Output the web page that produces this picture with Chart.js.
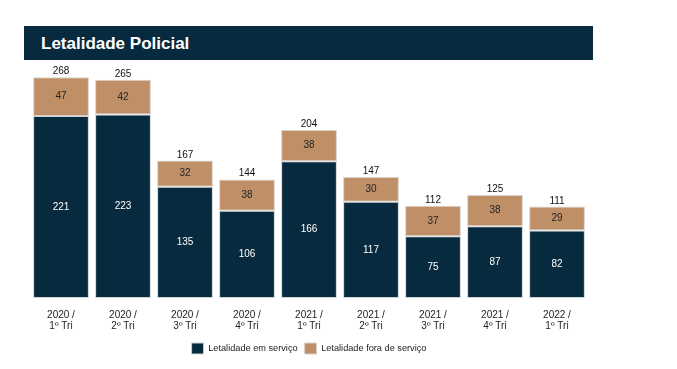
<!DOCTYPE html>
<html lang="pt">
<head>
<meta charset="UTF-8">
<title>Letalidade Policial</title>
<script src="https://cdn.jsdelivr.net/npm/chart.js"></script>
<style>
    body { margin: 0; background: #fff; font-family: "Liberation Sans", Arial, sans-serif; }
    .wrap { position: relative; width: 677px; height: 369px; }
    .titulo {
        position: absolute; left: 24px; top: 26px; width: 569px; height: 34px;
        background: #072a3e; color: #fff; font-weight: bold; font-size: 17px;
        line-height: 35px; padding-left: 17px; box-sizing: border-box; z-index: 2;
    }
    canvas { position: absolute; left: 0; top: 0; }
</style>
</head>
<body>
<div class="wrap">
    <div class="titulo">Letalidade Policial</div>
    <canvas id="grafico" width="677" height="369"></canvas>
</div>
<script>
    // dados
    var trimestres = [
        ['2020 /', '1º Tri'], ['2020 /', '2º Tri'], ['2020 /', '3º Tri'], ['2020 /', '4º Tri'],
        ['2021 /', '1º Tri'], ['2021 /', '2º Tri'], ['2021 /', '3º Tri'], ['2021 /', '4º Tri'],
        ['2022 /', '1º Tri']
    ];
    var emServico = [221, 223, 135, 106, 166, 117, 75, 87, 82];
    var foraServico = [47, 42, 32, 38, 38, 30, 37, 38, 29];

    var azul = '#072a3e';
    var bege = '#bf9068';

    // escreve os valores dentro das barras e o total em cima
    var rotulos = {
        id: 'rotulos',
        afterDatasetsDraw: function (chart) {
            var ctx = chart.ctx;
            ctx.save();
            ctx.font = '10px "Liberation Sans", Arial, sans-serif';
            ctx.textAlign = 'center';
            ctx.textBaseline = 'middle';
            chart.data.datasets.forEach(function (ds, i) {
                var meta = chart.getDatasetMeta(i);
                meta.data.forEach(function (bar, j) {
                    ctx.fillStyle = i == 0 ? '#ffffff' : '#222222';
                    ctx.fillText(ds.data[j], bar.x, (bar.y + bar.base) / 2);
                });
            });
            var topo = chart.getDatasetMeta(1);
            ctx.fillStyle = '#111111';
            ctx.textBaseline = 'alphabetic';
            topo.data.forEach(function (bar, j) {
                ctx.fillText(emServico[j] + foraServico[j], bar.x, bar.y - 3);
            });
            ctx.restore();
        }
    };

    var grafico = new Chart(document.getElementById('grafico'), {
        type: 'bar',
        data: {
            labels: trimestres,
            datasets: [{
                label: 'Letalidade em serviço',
                data: emServico,
                backgroundColor: azul,
                borderColor: '#cdd3d7',
                borderWidth: 1,
                borderSkipped: false
            }, {
                label: 'Letalidade fora de serviço',
                data: foraServico,
                backgroundColor: bege,
                borderColor: '#d9d2cb',
                borderWidth: 1,
                borderSkipped: false
            }]
        },
        options: {
            responsive: false,
            animation: false,
            barPercentage: 0.9,
            categoryPercentage: 1,
            layout: { padding: { left: 30, right: 89, top: 51, bottom: 5 } },
            scales: {
                x: {
                    stacked: true,
                    grid: { display: false },
                    border: { display: false },
                    ticks: {
                        color: '#222',
                        font: { size: 10, lineHeight: 1.1, family: '"Liberation Sans", Arial, sans-serif' },
                        maxRotation: 0,
                        padding: 4
                    }
                },
                y: {
                    stacked: true,
                    display: false,
                    min: 0,
                    max: 300
                }
            },
            plugins: {
                legend: {
                    position: 'bottom',
                    labels: {
                        boxWidth: 12,
                        boxHeight: 11,
                        padding: 7,
                        color: '#222',
                        font: { size: 9.2, family: '"Liberation Sans", Arial, sans-serif' }
                    }
                },
                tooltip: { enabled: false }
            }
        },
        plugins: [rotulos]
    });
</script>
</body>
</html>
